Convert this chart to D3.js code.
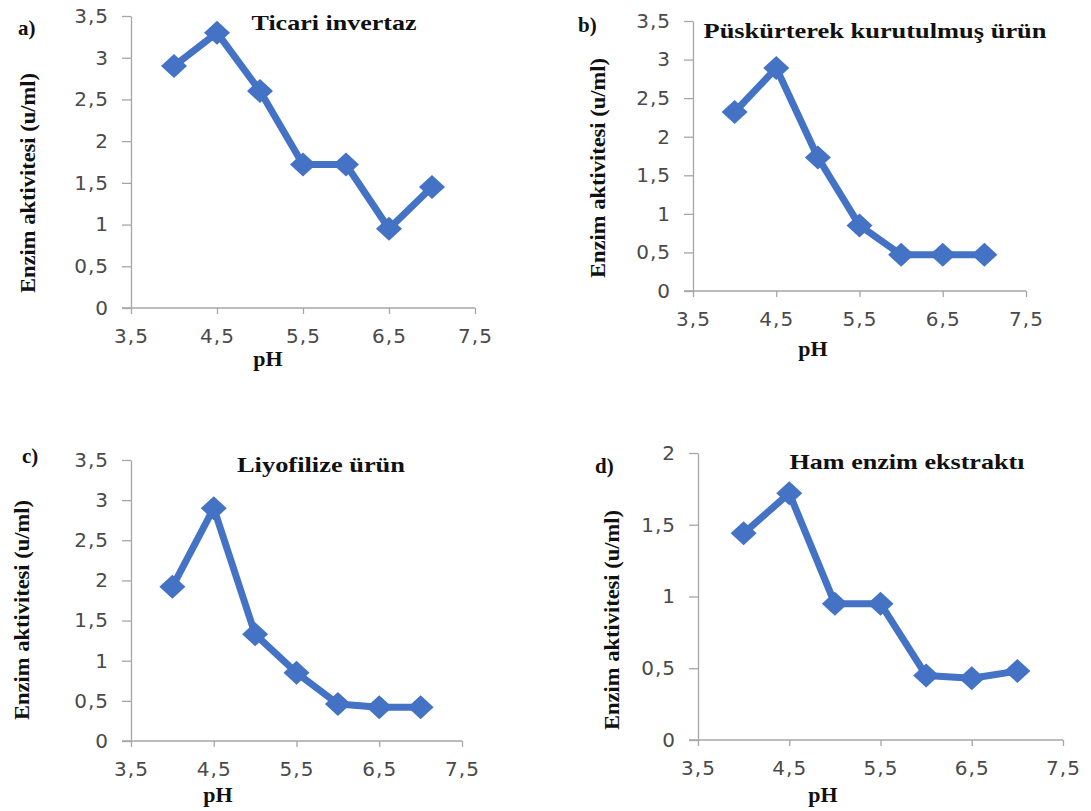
<!DOCTYPE html>
<html>
<head>
<meta charset="utf-8">
<script src="https://cdn.jsdelivr.net/npm/d3@7"></script>
<style>
  body { margin: 0; background: #fff; }
  svg { display: block; }
  .tick text { font-family: "DejaVu Sans", sans-serif; font-size: 20px; fill: #4a4a4a; letter-spacing: 1px; }
  .domain, .tick line { stroke: #a6a6a6; stroke-width: 1.3px; }
  .serif { font-family: "Liberation Serif", "Times New Roman", serif; font-weight: bold; fill: #111; }
</style>
</head>
<body>
<svg id="chart" width="1091" height="811"></svg>
<script>
"use strict";

// pH values shared by all four panels
var phValues = [4, 4.5, 5, 5.5, 6, 6.5, 7];

// enzyme activity (u/ml)
var ticariInvertaz = [2.9, 3.3, 2.6, 1.72, 1.72, 0.95, 1.45];
var puskurtmeUrun  = [2.32, 2.89, 1.73, 0.85, 0.47, 0.47, 0.47];
var liyofilizeUrun = [1.92, 2.9, 1.33, 0.85, 0.46, 0.42, 0.42];
var hamEkstrakt    = [1.44, 1.72, 0.95, 0.95, 0.45, 0.43, 0.48];

var xTicks = [3.5, 4.5, 5.5, 6.5, 7.5];
var yTicksFull = [0, 0.5, 1, 1.5, 2, 2.5, 3, 3.5];
var yTicksD = [0, 0.5, 1, 1.5, 2];

var yLabel = "Enzim aktivitesi (u/ml)";
var xLabel = "pH";

// layout per panel (pixel boxes of the plot area, label spots)
var panels = [
  { tag: "a)", title: "Ticari  invertaz", values: ticariInvertaz, yMax: 3.5, yTicks: yTicksFull,
    x0: 131, x1: 475, yTop: 16, yBot: 308,
    tagX: 18, tagY: 35, titleX: 334, titleY: 30, titleW: 165,
    ylabX: 35, ylabY: 183, phX: 268, phY: 366 },
  { tag: "b)", title: "Püskürterek  kurutulmuş  ürün", values: puskurtmeUrun, yMax: 3.5, yTicks: yTicksFull,
    x0: 693, x1: 1026, yTop: 21, yBot: 291,
    tagX: 578, tagY: 32, titleX: 875, titleY: 38, titleW: 343,
    ylabX: 605, ylabY: 168, phX: 813, phY: 356 },
  { tag: "c)", title: "Liyofilize ürün", values: liyofilizeUrun, yMax: 3.5, yTicks: yTicksFull,
    x0: 131, x1: 462, yTop: 460, yBot: 741,
    tagX: 22, tagY: 463, titleX: 321, titleY: 472, titleW: 168,
    ylabX: 29, ylabY: 610, phX: 218, phY: 802 },
  { tag: "d)", title: "Ham enzim ekstraktı", values: hamEkstrakt, yMax: 2, yTicks: yTicksD,
    x0: 698, x1: 1063, yTop: 453, yBot: 740,
    tagX: 595, tagY: 473, titleX: 907, titleY: 469, titleW: 235,
    ylabX: 619, ylabY: 620, phX: 823, phY: 802 }
];

var lineColor = "#4472c4";
var svg = d3.select("#chart");
var fmt = function(d){ return String(d).replace(".", ","); };

panels.forEach(function(p){
  var x = d3.scaleLinear().domain([3.5, 7.5]).range([p.x0, p.x1]);
  var y = d3.scaleLinear().domain([0, p.yMax]).range([p.yBot, p.yTop]);
  var g = svg.append("g");

  var xAxis = g.append("g")
    .attr("transform", "translate(0," + p.yBot + ")")
    .call(d3.axisBottom(x).tickValues(xTicks).tickFormat(fmt).tickSize(6).tickSizeOuter(0).tickPadding(15));
  // extend baseline left to meet the y tick at 0
  xAxis.select(".domain").attr("d", "M" + (p.x0 - 9) + ",0H" + p.x1);

  g.append("g")
    .attr("transform", "translate(" + p.x0 + ",0)")
    .call(d3.axisLeft(y).tickValues(p.yTicks).tickFormat(fmt).tickSize(9).tickSizeOuter(0).tickPadding(13));

  var pts = p.values.map(function(v, i){ return [phValues[i], v]; });

  g.append("path")
    .datum(pts)
    .attr("fill", "none")
    .attr("stroke", lineColor)
    .attr("stroke-width", 7)
    .attr("stroke-linejoin", "round")
    .attr("d", d3.line().x(function(d){ return x(d[0]); }).y(function(d){ return y(d[1]); }));

  g.selectAll(".mk")
    .data(pts)
    .enter().append("path")
    .attr("class", "mk")
    .attr("fill", lineColor)
    .attr("d", function(d){
      var cx = x(d[0]), cy = y(d[1]);
      return "M" + (cx - 13) + "," + cy + "L" + cx + "," + (cy - 12) + "L" + (cx + 13) + "," + cy + "L" + cx + "," + (cy + 12) + "Z";
    });

  g.append("text").attr("class", "serif")
    .attr("x", p.tagX).attr("y", p.tagY)
    .style("font-size", "21px")
    .text(p.tag);

  g.append("text").attr("class", "serif")
    .attr("x", p.titleX).attr("y", p.titleY)
    .attr("text-anchor", "middle")
    .attr("textLength", p.titleW).attr("lengthAdjust", "spacingAndGlyphs")
    .style("font-size", "21px")
    .text(p.title);

  g.append("text").attr("class", "serif")
    .attr("transform", "translate(" + p.ylabX + "," + p.ylabY + ") rotate(-90)")
    .attr("text-anchor", "middle")
    .attr("textLength", 220).attr("lengthAdjust", "spacingAndGlyphs")
    .style("font-size", "21px")
    .text(yLabel);

  g.append("text").attr("class", "serif")
    .attr("x", p.phX).attr("y", p.phY)
    .attr("text-anchor", "middle")
    .style("font-size", "22px")
    .text(xLabel);
});
</script>
</body>
</html>
